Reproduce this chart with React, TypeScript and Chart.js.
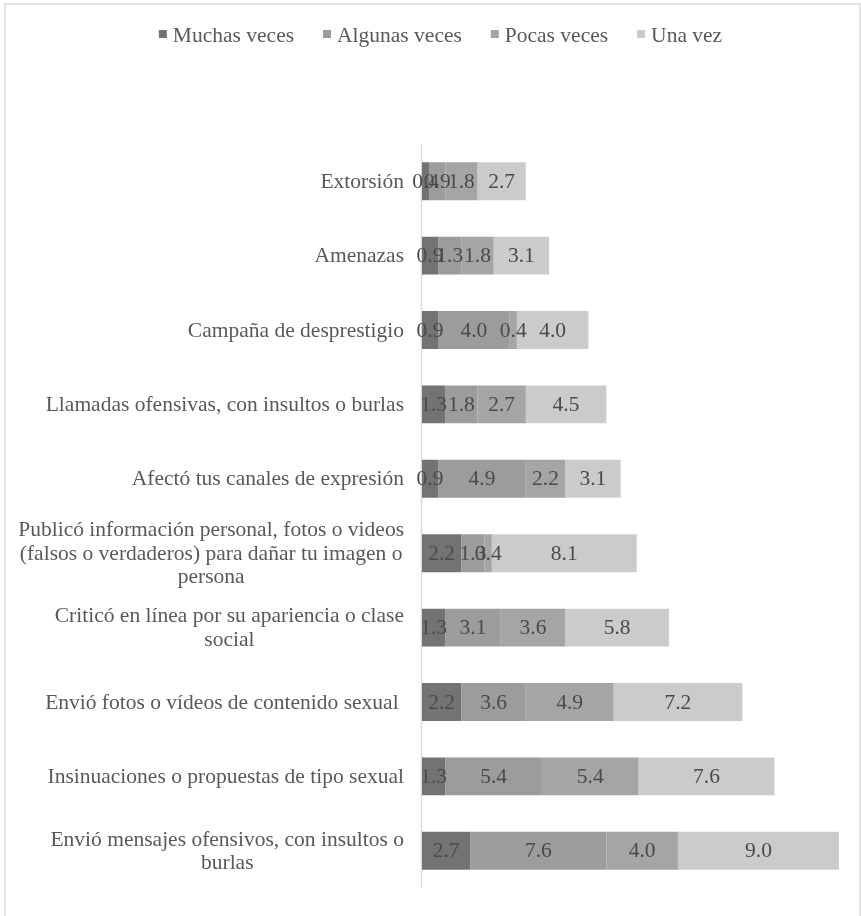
import React, { useEffect, useRef } from "react";
import { Chart, registerables } from "chart.js";

Chart.register(...registerables);

const categories: string[][] = [
  ["Extorsión"],
  ["Amenazas"],
  ["Campaña de desprestigio"],
  ["Llamadas ofensivas, con insultos o burlas"],
  ["Afectó tus canales de expresión"],
  [
    "Publicó información personal, fotos o videos",
    "(falsos o verdaderos) para dañar tu imagen o",
    "persona",
  ],
  ["Criticó en línea por su apariencia o clase", "social"],
  ["Envió fotos o vídeos de contenido sexual "],
  ["Insinuaciones o propuestas de tipo sexual"],
  ["Envió mensajes ofensivos, con insultos o", "burlas"],
];

const seriesNames = ["Muchas veces", "Algunas veces", "Pocas veces", "Una vez"];
const muchasVeces = [0.4, 0.9, 0.9, 1.3, 0.9, 2.2, 1.3, 2.2, 1.3, 2.7];
const algunasVeces = [0.9, 1.3, 4.0, 1.8, 4.9, 1.3, 3.1, 3.6, 5.4, 7.6];
const pocasVeces = [1.8, 1.8, 0.4, 2.7, 2.2, 0.4, 3.6, 4.9, 5.4, 4.0];
const unaVez = [2.7, 3.1, 4.0, 4.5, 3.1, 8.1, 5.8, 7.2, 7.6, 9.0];

const seriesColors = ["#737373", "#9c9c9c", "#a5a5a5", "#cbcbcb"];

const FONT = "'Liberation Serif', 'Times New Roman', serif";
const FONT_SIZE = 21.5;

const customDraw = {
  id: "customDraw",
  beforeDatasetsDraw(chart: any) {
    const { ctx, chartArea } = chart;
    ctx.save();
    ctx.strokeStyle = "#d9d9d9";
    ctx.lineWidth = 1.5;
    ctx.beginPath();
    ctx.moveTo(chartArea.left - 0.5, chartArea.top);
    ctx.lineTo(chartArea.left - 0.5, chartArea.bottom);
    ctx.stroke();
    ctx.restore();
  },
  afterDatasetsDraw(chart: any) {
    const { ctx, chartArea } = chart;
    const yScale = chart.scales.y;
    ctx.save();

    // data labels
    ctx.font = `${FONT_SIZE}px ${FONT}`;
    ctx.fillStyle = "#4a4a4a";
    ctx.textAlign = "center";
    ctx.textBaseline = "middle";
    chart.data.datasets.forEach((ds: any, di: number) => {
      const meta = chart.getDatasetMeta(di);
      meta.data.forEach((bar: any, j: number) => {
        const v = ds.data[j];
        const cx = (bar.x + bar.base) / 2;
        ctx.fillText(Number(v).toFixed(1), cx, bar.y + 1);
      });
    });

    // category labels
    ctx.fillStyle = "#595959";
    ctx.font = `${FONT_SIZE}px ${FONT}`;
    const lh = 23.5;
    const rightEdge = chartArea.left - 18;
    (chart.data.labels as string[][]).forEach((lines, i) => {
      const yc = yScale.getPixelForValue(i);
      const w = Math.max(...lines.map((l) => ctx.measureText(l).width));
      const cx = rightEdge - w / 2;
      const n = lines.length;
      lines.forEach((line, k) => {
        const ty = yc + (k - (n - 1) / 2) * lh + 1;
        ctx.textAlign = "center";
        ctx.fillText(line, cx, ty);
      });
    });

    // legend
    ctx.font = `${FONT_SIZE}px ${FONT}`;
    const box = 8;
    const gapBoxText = 6;
    const gapItems = 29;
    const widths = chart.data.datasets.map(
      (ds: any) => box + gapBoxText + ctx.measureText(ds.label).width
    );
    const total =
      widths.reduce((a: number, b: number) => a + b, 0) +
      gapItems * (widths.length - 1);
    let x = chart.width / 2 - total / 2 + 10;
    const ly = 36;
    chart.data.datasets.forEach((ds: any, di: number) => {
      ctx.fillStyle = ds.backgroundColor;
      ctx.fillRect(x, ly - box / 2 - 2, box, box);
      ctx.fillStyle = "#595959";
      ctx.textAlign = "left";
      ctx.textBaseline = "middle";
      ctx.fillText(ds.label, x + box + gapBoxText, ly);
      x += widths[di] + gapItems;
    });

    ctx.restore();
  },
};

export default function App() {
  const canvasRef = useRef<HTMLCanvasElement | null>(null);

  useEffect(() => {
    if (!canvasRef.current) return;
    const seriesValues = [muchasVeces, algunasVeces, pocasVeces, unaVez];
    const chart = new Chart(canvasRef.current, {
      type: "bar",
      data: {
        labels: categories as any,
        datasets: seriesNames.map((name, i) => ({
          label: name,
          data: seriesValues[i],
          backgroundColor: seriesColors[i],
          borderWidth: 0,
          barPercentage: 0.51,
          categoryPercentage: 1,
        })),
      },
      options: {
        indexAxis: "y",
        responsive: false,
        animation: false,
        devicePixelRatio: 1,
        layout: { padding: { left: 422, top: 144, right: 9.5, bottom: 28 } },
        plugins: {
          legend: { display: false },
          tooltip: { enabled: false },
          title: { display: false },
        },
        scales: {
          x: { stacked: true, min: 0, max: 24, display: false },
          y: { stacked: true, display: false },
        },
      },
      plugins: [customDraw],
    });
    return () => chart.destroy();
  }, []);

  return (
    <div
      style={{
        position: "absolute",
        left: 0,
        top: 0,
        width: 861,
        height: 916,
        overflow: "hidden",
        background: "#ffffff",
      }}
    >
      <div
        style={{
          position: "absolute",
          left: 4,
          top: 3,
          width: 853,
          height: 1000,
          border: "2px solid #e3e3e3",
        }}
      />
      <canvas
        ref={canvasRef}
        width={861}
        height={916}
        style={{ position: "absolute", left: 0, top: 0, width: 861, height: 916 }}
      />
    </div>
  );
}
